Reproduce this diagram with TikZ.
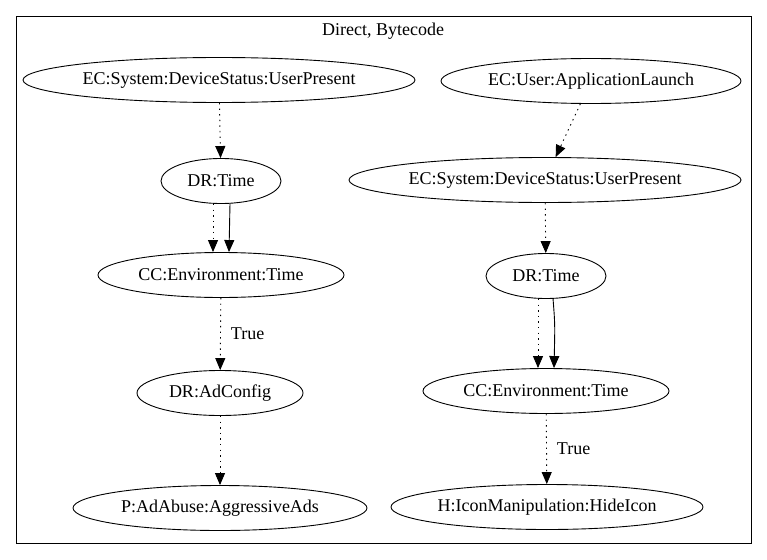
\documentclass[tikz,border=0pt]{standalone}
\usepackage{fontspec}
\setmainfont{Liberation Serif}
\usetikzlibrary{arrows.meta,shapes.geometric,calc}
\tikzset{
  nd/.style={draw, ellipse, minimum height=45pt, inner sep=0pt, line width=0.9pt, font=\rmfamily\fontsize{18}{21}\selectfont},
  lbl/.style={font=\rmfamily\fontsize{18}{21}\selectfont, inner sep=0pt},
  dotedge/.style={line width=0.9pt, dash pattern=on 1.4pt off 4.2pt, -{Triangle[length=12pt,width=10pt]}},
  soledge/.style={line width=0.9pt, -{Triangle[length=12pt,width=10pt]}},
  frame/.style={draw, line width=0.9pt}
}
\begin{document}
\begin{tikzpicture}[x=1pt,y=-1pt]
\useasboundingbox[fill=white] (0,0) rectangle (767,559);
\draw[frame] (16,16) rectangle (751,543);
\node[lbl] (title) at (383,31) {Direct, Bytecode};
% left column
\node[nd, minimum width=392pt] (L1) at (219,80) {EC:System:DeviceStatus:UserPresent};
\node[nd, minimum width=120pt] (L2) at (221,181) {DR:Time};
\node[nd, minimum width=246pt] (L3) at (221,275) {CC:Environment:Time};
\node[nd, minimum width=166pt] (L4) at (220,393) {DR:AdConfig};
\node[nd, minimum width=294pt] (L5) at (220,508) {P:AdAbuse:AggressiveAds};
% right column
\node[nd, minimum width=300pt] (R1) at (591,81) {EC:User:ApplicationLaunch};
\node[nd, minimum width=392pt] (R2) at (545,180) {EC:System:DeviceStatus:UserPresent};
\node[nd, minimum width=120pt] (R3) at (546,276) {DR:Time};
\node[nd, minimum width=246pt] (R4) at (546,391) {CC:Environment:Time};
\node[nd, minimum width=312pt] (R5) at (547,507) {H:IconManipulation:HideIcon};
% left edges
\draw[dotedge] (L1) -- (L2);
\draw[dotedge] ($(L2.south)+(-8,0)$) -- ($(L3.north)+(-8,0)$);
\draw[soledge] ($(L2.south)+(9,-0.5)$) -- ($(L3.north)+(8,0)$);
\draw[dotedge] (L3) -- node[lbl, right=10pt] (t1) {True} (L4);
\draw[dotedge] (L4) -- (L5);
% right edges
\draw[dotedge] (R1) -- (R2);
\draw[dotedge] (R2) -- (R3);
\draw[dotedge] ($(R3.south)+(-8,0)$) -- ($(R4.north)+(-8,0)$);
\draw[soledge] ($(R3.south)+(7,-0.5)$) .. controls ($(R3.south)+(9,25)$) .. ($(R4.north)+(8,0)$);
\draw[dotedge] (R4) -- node[lbl, right=10pt] (t2) {True} (R5);
\end{tikzpicture}
\end{document}
